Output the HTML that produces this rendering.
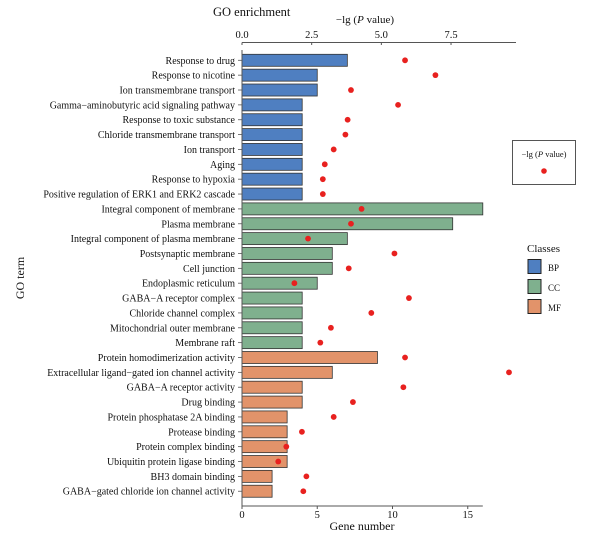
<!DOCTYPE html>
<html><head><meta charset="utf-8"><style>
html,body{margin:0;padding:0;background:#fff;}
svg{display:block;font-family:"Liberation Serif",serif;}
</style></head><body>
<svg id="chart" width="604" height="538" xmlns="http://www.w3.org/2000/svg">
<text x="213" y="16" font-size="12.5" fill="#111">GO enrichment</text>
<text x="365" y="23" font-size="11" fill="#111" text-anchor="middle">−lg (<tspan font-style="italic">P</tspan> value)</text>
<text x="362" y="530" font-size="12" fill="#111" text-anchor="middle">Gene number</text>
<text transform="translate(24,278) rotate(-90)" font-size="12" fill="#111" text-anchor="middle">GO term</text>
<g id="bars"></g><g id="dots"></g><g id="axes"></g>
<g>
<rect x="512.5" y="140.5" width="63" height="44" fill="#fff" stroke="#555" stroke-width="1"/>
<text x="544" y="157" font-size="8.5" text-anchor="middle" fill="#111">−lg (<tspan font-style="italic">P</tspan> value)</text>
<circle cx="544" cy="171" r="2.8" fill="#e8211f"/>
</g>
<g>
<text x="527" y="252" font-size="11" fill="#111">Classes</text>
<rect x="528" y="259.5" width="13" height="14" fill="#4f7fc1" stroke="#222"/>
<text x="548" y="271" font-size="9" fill="#111">BP</text>
<rect x="528" y="279.5" width="13" height="14" fill="#7fb08e" stroke="#222"/>
<text x="548" y="291" font-size="9" fill="#111">CC</text>
<rect x="528" y="299.5" width="13" height="14" fill="#e2936a" stroke="#222"/>
<text x="548" y="311" font-size="9" fill="#111">MF</text>
</g>
</svg>
<script>
const terms=["Response to drug","Response to nicotine","Ion transmembrane transport","Gamma−aminobutyric acid signaling pathway","Response to toxic substance","Chloride transmembrane transport","Ion transport","Aging","Response to hypoxia","Positive regulation of ERK1 and ERK2 cascade","Integral component of membrane","Plasma membrane","Integral component of plasma membrane","Postsynaptic membrane","Cell junction","Endoplasmic reticulum","GABA−A receptor complex","Chloride channel complex","Mitochondrial outer membrane","Membrane raft","Protein homodimerization activity","Extracellular ligand−gated ion channel activity","GABA−A receptor activity","Drug binding","Protein phosphatase 2A binding","Protease binding","Protein complex binding","Ubiquitin protein ligase binding","BH3 domain binding","GABA−gated chloride ion channel activity"];
const classes=["BP","BP","BP","BP","BP","BP","BP","BP","BP","BP","CC","CC","CC","CC","CC","CC","CC","CC","CC","CC","MF","MF","MF","MF","MF","MF","MF","MF","MF","MF"];
const geneCounts=[7,5,5,4,4,4,4,4,4,4,16,14,7,6,6,5,4,4,4,4,9,6,4,4,3,3,3,3,2,2];
const pValues=[5.85,6.94,3.91,5.6,3.79,3.71,3.29,2.97,2.9,2.9,4.29,3.91,2.37,5.47,3.83,1.88,5.99,4.64,3.19,2.81,5.85,9.58,5.79,3.98,3.29,2.15,1.59,1.30,2.31,2.2];
const bottomTicks=[0,5,10,15];
const topTicks=["0.0","2.5","5.0","7.5"];
const colors={BP:"#4f7fc1",CC:"#7fb08e",MF:"#e2936a"};
const NS="http://www.w3.org/2000/svg";
const X0=242, gx=v=>X0+v*15.05, px=v=>X0+v*27.87, ry=i=>60.3+i*14.86;
function mk(t,a,p){const e=document.createElementNS(NS,t);for(const k in a)e.setAttribute(k,a[k]);p.appendChild(e);return e;}
const bars=document.getElementById('bars'),dots=document.getElementById('dots'),axes=document.getElementById('axes');
terms.forEach((t,i)=>{
 const r=mk('rect',{x:X0,y:ry(i)-6,width:gx(geneCounts[i])-X0,height:12,fill:colors[classes[i]],stroke:'#333','stroke-width':0.8},bars);
 
 
 const c=mk('circle',{cx:px(pValues[i]),cy:ry(i),r:2.9,fill:'#e8211f'},dots);
 
 
 const l=mk('text',{x:235,y:ry(i)+3.5,'font-size':10,'text-anchor':'end',fill:'#111'},axes);
 l.textContent=t;
 
 
 mk('line',{x1:238,x2:X0,y1:ry(i),y2:ry(i),stroke:'#555','stroke-width':0.8},axes);
});
mk('line',{x1:X0,x2:X0,y1:50,y2:506,stroke:'#555','stroke-width':1},axes);
mk('line',{x1:X0,x2:gx(16),y1:506,y2:506,stroke:'#555','stroke-width':1},axes);
mk('line',{x1:X0,x2:516,y1:42.5,y2:42.5,stroke:'#555','stroke-width':1},axes);
bottomTicks.forEach(v=>{
 mk('line',{x1:gx(v),x2:gx(v),y1:506,y2:509,stroke:'#555'},axes);
 const t=mk('text',{x:gx(v),y:518,'font-size':10.5,'text-anchor':'middle',fill:'#111'},axes);
 t.textContent=v;
 
 
});
topTicks.forEach(v=>{
 mk('line',{x1:px(+v),x2:px(+v),y1:42.5,y2:45,stroke:'#555'},axes);
 const t=mk('text',{x:px(+v),y:38,'font-size':10.5,'text-anchor':'middle',fill:'#111'},axes);
 t.textContent=v;
 
 
});
</script>
</body></html>
